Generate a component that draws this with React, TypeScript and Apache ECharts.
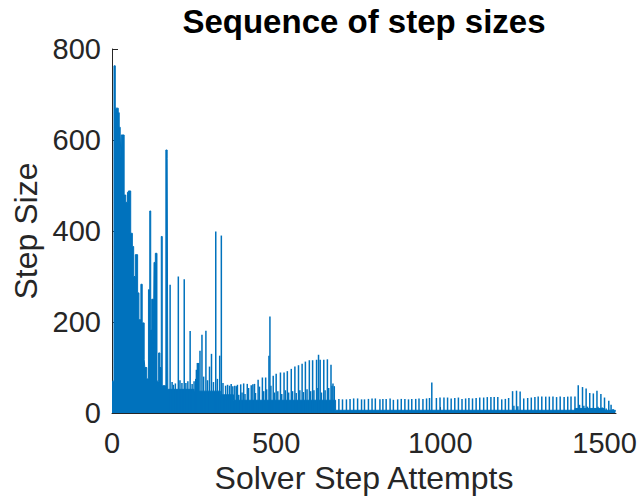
import React, { useEffect, useRef } from "react";
import * as echarts from "echarts";

// Upper edge of the dense, solidly filled band (column start x, height)
const bandX = [0, 6, 10, 19, 22, 25, 27, 28, 37, 42, 47, 50, 57, 62, 66, 71, 78, 82, 88, 92, 98, 100, 106, 111, 115, 118, 121, 126, 128, 132, 137, 142, 146, 150, 153, 164, 168, 170, 250, 330, 370, 681, 1000, 1410, 1500, 1533];
const bandY = [70, 763, 670, 660, 628, 611, 560, 611, 479, 463, 485, 488, 395, 366, 300, 348, 264, 205, 283, 198, 117, 100, 75, 271, 444, 183, 250, 110, 331, 351, 70, 132, 100, 388, 60, 578, 560, 52, 48, 40, 28, 6, 6, 10, 6, 3];

// Isolated spikes (solver step attempt, step size)
const spikeX = [
  177, 183, 187, 193, 202, 207, 213, 220, 225, 231, 238, 244, 250, 255, 257, 260, 264, 268, 274, 279, 286, 291, 297, 303, 309, 316, 321, 328, 333, 338, 346, 352, 358, 363, 368, 374,
  379, 382, 386, 392, 396, 401, 405, 412, 416, 424, 429, 434, 437, 445, 449, 458, 462, 468, 471, 478, 481, 484, 491, 495, 500, 505, 513, 517, 524, 528, 534, 538, 546, 550, 557, 561, 568, 572, 579, 583, 589, 594, 601, 605, 611, 615, 623, 627, 629, 634, 638, 645, 649, 656, 660, 667, 670, 673, 677,
  691, 702, 714, 725, 736, 748, 760, 769, 781, 792, 802, 816, 825, 835, 847, 857, 870, 881, 892, 903, 913, 925, 935, 947, 958, 967, 974, 988, 999, 1011, 1022, 1033, 1044, 1055, 1066, 1077, 1087, 1098, 1109, 1120, 1132, 1143, 1154, 1164, 1175, 1187, 1198, 1208, 1220, 1224, 1232, 1236, 1243, 1254, 1266, 1277, 1288, 1298, 1309, 1321, 1332, 1343, 1354, 1365, 1377, 1388, 1398, 1410, 1420, 1424, 1433, 1437, 1444, 1448, 1455, 1466, 1477, 1480, 1489, 1493, 1500, 1505, 1513, 1520, 1526
];
const spikeY = [
  282, 68, 62, 65, 300, 72, 66, 294, 66, 70, 180, 64, 70, 75, 95, 110, 110, 137, 172, 80, 181, 72, 102, 130, 68, 399, 75, 126, 390, 66, 60, 62, 60, 64, 59, 60,
  59, 62, 40, 63, 45, 65, 42, 64, 55, 61, 63, 64, 44, 73, 58, 78, 48, 78, 52, 126, 212, 60, 82, 45, 86, 48, 89, 42, 89, 50, 92, 45, 97, 48, 102, 44, 105, 50, 108, 46, 113, 52, 116, 48, 116, 50, 117, 55, 128, 117, 45, 117, 50, 118, 55, 106, 60, 65, 59,
  31, 30, 30, 31, 32, 32, 30, 30, 31, 32, 32, 30, 31, 31, 32, 29, 30, 31, 31, 30, 31, 31, 32, 31, 32, 33, 67, 33, 34, 34, 34, 32, 33, 34, 31, 32, 33, 32, 33, 34, 34, 35, 35, 35, 35, 30, 31, 33, 48, 16, 49, 15, 47, 32, 33, 34, 35, 36, 36, 36, 36, 36, 35, 36, 35, 36, 36, 36, 61, 18, 57, 16, 54, 14, 44, 43, 49, 14, 42, 12, 34, 10, 27, 18, 9
];

const xTicks = { min: 0, max: 1535, interval: 500 };
const yTicks = { min: 0, max: 800, interval: 200 };

const COLOR = "#0072BD";
const FONT = "'Liberation Sans', Arial, Helvetica, sans-serif";
const AXIS = "#262626";

export default function App() {
  const ref = useRef<HTMLDivElement>(null);
  useEffect(() => {
    if (!ref.current) return;
    const chart = echarts.init(ref.current, undefined, { renderer: "svg" });
    const band = bandX.map((x, i) => [x, bandY[i]]);
    const spikes = spikeX.map((x, i) => [x, spikeY[i]]);
    const axisCommon = {
      type: "value" as const,
      nameLocation: "middle" as const,
      nameTextStyle: { fontSize: 32, color: AXIS, fontFamily: FONT },
      axisLine: { show: true, lineStyle: { color: AXIS, width: 1 } },
      axisTick: { show: true, inside: true, length: 6, lineStyle: { color: AXIS, width: 1 } },
      axisLabel: { fontSize: 29, color: AXIS, fontFamily: FONT, formatter: (v: number) => String(v) },
      splitLine: { show: false },
    };
    chart.setOption({
      animation: false,
      backgroundColor: "#ffffff",
      title: {
        text: "Sequence of step sizes",
        left: 364,
        top: 5,
        padding: 0,
        textAlign: "center",
        textStyle: { fontSize: 33, fontWeight: "bold", color: "#000", fontFamily: FONT },
      },
      grid: { left: 112, right: 25, top: 49, bottom: 89, containLabel: false },
      xAxis: {
        ...axisCommon,
        ...xTicks,
        name: "Solver Step Attempts",
        nameGap: 48,
        axisLabel: { ...axisCommon.axisLabel, margin: 15 },
      },
      yAxis: {
        ...axisCommon,
        ...yTicks,
        name: "Step Size",
        nameGap: 66,
        axisLabel: { ...axisCommon.axisLabel, margin: 11 },
      },
      series: [
        {
          type: "line",
          data: band,
          step: "end",
          symbol: "none",
          lineStyle: { color: COLOR, width: 1 },
          areaStyle: { color: COLOR, opacity: 1 },
          z: 2,
        },
        {
          type: "bar",
          data: spikes,
          barWidth: 1.5,
          itemStyle: { color: COLOR },
          z: 3,
        },
      ],
    });
    return () => chart.dispose();
  }, []);
  return <div ref={ref} style={{ position: "fixed", left: 0, top: 0, width: 641, height: 502 }} />;
}
